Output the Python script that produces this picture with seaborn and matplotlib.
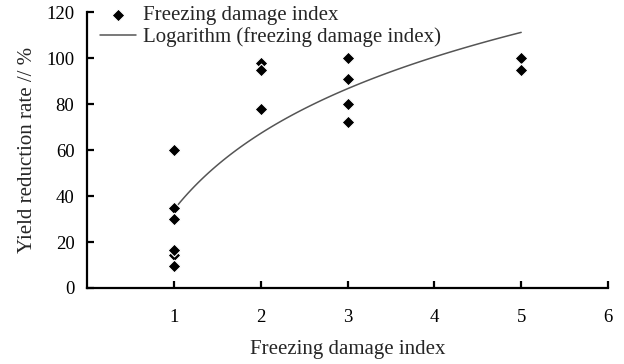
import numpy as np
import matplotlib as mpl
import matplotlib.pyplot as plt
import seaborn as sns

# data
damage_index = [1, 1, 1, 1, 1, 1, 2, 2, 2, 3, 3, 3, 3, 5, 5]
yield_reduction = [60, 35, 30, 14.5, 16.5, 9.5, 98, 95, 78, 100, 91, 80, 72, 100, 95]
x_ticks = [1, 2, 3, 4, 5, 6]
y_ticks = [0, 20, 40, 60, 80, 100, 120]

sns.set_style('ticks')
mpl.rcParams['font.family'] = ['Liberation Serif', 'DejaVu Serif']
mpl.rcParams['font.size'] = 14

fig = plt.figure(figsize=(6.24, 3.64), dpi=100)
ax = fig.add_axes([0.1394, 0.2088, 0.835, 0.758])

sns.regplot(x=np.array(damage_index), y=np.array(yield_reduction), logx=True,
            scatter=False, ci=None, truncate=True, ax=ax,
            label='Logarithm (freezing damage index)',
            line_kws=dict(color='#555555', lw=1.1, zorder=2))
sns.scatterplot(x=damage_index, y=yield_reduction, marker='D', s=42,
                color='black', edgecolor='white', linewidth=0.8, ax=ax,
                label='Freezing damage index', zorder=3, legend=False)

ax.set_xlim(0, 6)
ax.set_ylim(0, 120)
ax.set_xticks(x_ticks)
ax.set_yticks(y_ticks)
for s in ('top', 'right'):
    ax.spines[s].set_visible(False)
for s in ('left', 'bottom'):
    ax.spines[s].set_linewidth(1.6)
    ax.spines[s].set_color('black')
ax.tick_params(axis='both', direction='in', length=5, width=1.6, colors='black',
               labelsize=13.5)
ax.tick_params(axis='x', pad=15)
ax.tick_params(axis='y', pad=9)
ax.set_xlabel('Freezing damage index', fontsize=15, labelpad=10)
ax.set_ylabel('Yield reduction rate // %', fontsize=15, labelpad=7)

handles, labels = ax.get_legend_handles_labels()
order = [labels.index('Freezing damage index'),
         labels.index('Logarithm (freezing damage index)')]
ax.legend([handles[i] for i in order], [labels[i] for i in order],
          loc='upper left', bbox_to_anchor=(0.16, 0.984),
          bbox_transform=fig.transFigure, frameon=False, borderpad=0,
          borderaxespad=0, labelspacing=0.1, handlelength=1.75,
          handletextpad=0.3, fontsize=15, scatterpoints=1)

fig.savefig('out.png', dpi=100, facecolor='white')
